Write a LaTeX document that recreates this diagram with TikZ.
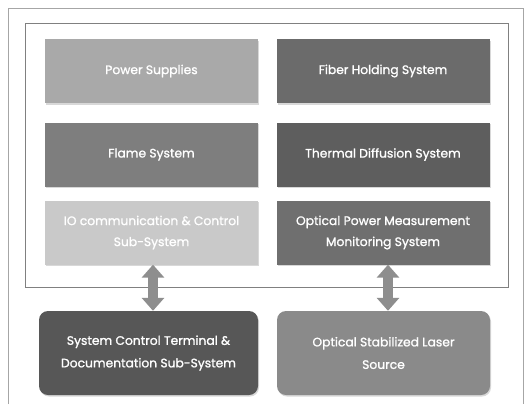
\documentclass[tikz,border=0pt]{standalone}
\usepackage{fontspec}
\setmainfont{Poppins}
\newfontfamily\boxfont{Poppins}[FakeBold=1.2]
\usetikzlibrary{arrows.meta,shadows}
\definecolor{cPS}{HTML}{A9A9A9}
\definecolor{cFH}{HTML}{6B6B6B}
\definecolor{cFL}{HTML}{7E7E7E}
\definecolor{cTD}{HTML}{5E5E5E}
\definecolor{cIO}{HTML}{C9C9C9}
\definecolor{cOP}{HTML}{6F6F6F}
\definecolor{cSC}{HTML}{575757}
\definecolor{cOS}{HTML}{8A8A8A}
\definecolor{cAR}{HTML}{8E8E8E}
\begin{document}
\begin{tikzpicture}[x=1pt,y=-1pt,
  blk/.style={minimum width=213pt,minimum height=64pt,inner sep=0pt,
    text=white,font=\boxfont\fontsize{12.3}{21}\selectfont,align=center,
    drop shadow={shadow xshift=1pt,shadow yshift=-1.5pt,fill=black!30}},
  rblk/.style={blk,rounded corners=9pt,minimum height=84pt,
    font=\boxfont\fontsize{12.3}{22.5}\selectfont},
  frame/.style={draw=black!45,line width=0.8pt},
  dbl/.style={draw=cAR,line width=10pt,
    {Triangle[width=22pt,length=13pt]}-{Triangle[width=22pt,length=13pt]}}]
\useasboundingbox (0,0) rectangle (528,405);
\fill[white] (0,0) rectangle (528,405);
% outer frame
\draw[frame,draw=black!35] (8,404) -- (8,8) -- (523,8) -- (523,404);
% inner frame
\node[frame,draw=black!50,minimum width=483pt,minimum height=264pt,inner sep=0pt] (inner) at (266.5,155) {};
% boxes
\node[blk,fill=cPS] (ps) at (151.5,71) {Power Supplies};
\node[blk,fill=cFH] (fh) at (383,71) {Fiber Holding System};
\node[blk,fill=cFL] (fl) at (151.5,154.5) {Flame System};
\node[blk,fill=cTD] (td) at (383,154.5) {Thermal Diffusion System};
\node[blk,fill=cIO] (io) at (151.5,232.5) {IO communication \& Control\\Sub-System};
\node[blk,fill=cOP] (op) at (383,232.5) {Optical Power Measurement\\Monitoring System};
\node[rblk,fill=cSC,minimum width=219pt] (sc) at (148.5,353) {System Control Terminal \&\\Documentation Sub-System};
\node[rblk,fill=cOS] (os) at (383.5,353) {Optical Stabilized Laser\\Source};
% arrows
\draw[dbl] (io.south -| 153,0) -- (sc.north -| 153,0);
\draw[dbl] (op.south -| 388,0) -- (os.north -| 388,0);
\end{tikzpicture}
\end{document}
